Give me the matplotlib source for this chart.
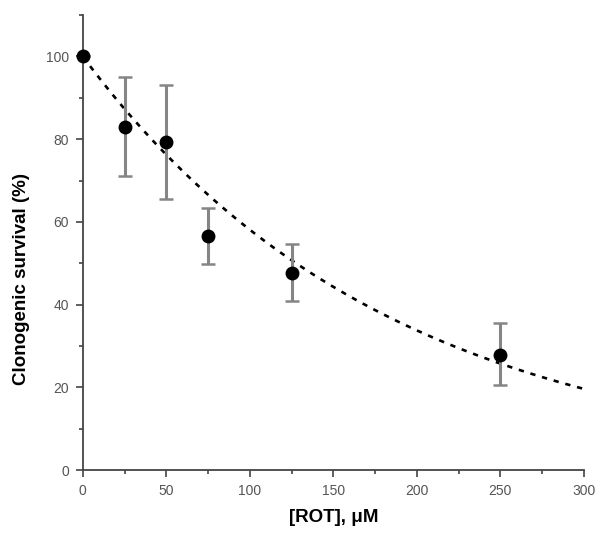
import numpy as np
import matplotlib
matplotlib.use("Agg")
import matplotlib.pyplot as plt
from matplotlib.ticker import MultipleLocator

plt.rcParams['font.family'] = ['Liberation Sans', 'DejaVu Sans']

# rotenone dose (uM) vs clonogenic survival (%)
dose = [0, 25, 50, 75, 125, 250]
survival = [100, 83.0, 79.3, 56.5, 47.7, 27.8]
err_low = [0, 12.0, 13.8, 6.7, 6.9, 7.3]
err_high = [0, 12.0, 13.7, 6.8, 6.9, 7.7]

x_ticks = [0, 50, 100, 150, 200, 250, 300]
y_ticks = [0, 20, 40, 60, 80, 100]

# single exponential decay through 100%, least squares on log scale
d = np.array(dose[1:], dtype=float)
s = np.array(survival[1:], dtype=float)
k = -np.sum(d * np.log(s / 100.0)) / np.sum(d ** 2)
xfit = np.linspace(0, 300, 300)
yfit = 100.0 * np.exp(-k * xfit)

fig = plt.figure(figsize=(6.0, 5.39), dpi=100)
ax = fig.add_axes([0.138, 0.128, 0.835, 0.844])

ax.plot(xfit, yfit, color='black', lw=1.9, linestyle=(0, (2.0, 2.6)), zorder=2)
ax.errorbar(dose, survival, yerr=[err_low, err_high], fmt='none',
            ecolor='#858585', elinewidth=2.2, capsize=5, capthick=1.8, zorder=3)
ax.plot(dose, survival, 'o', color='black', ms=9, zorder=4, clip_on=False)

ax.set_xlim(0, 300)
ax.set_ylim(0, 110)
ax.set_xticks(x_ticks)
ax.set_yticks(y_ticks)
ax.xaxis.set_minor_locator(MultipleLocator(25))
ax.yaxis.set_minor_locator(MultipleLocator(10))

for side in ['top', 'right']:
    ax.spines[side].set_visible(False)
for side in ['left', 'bottom']:
    ax.spines[side].set_color('#444444')
    ax.spines[side].set_linewidth(1.3)

ax.tick_params(which='major', direction='out', length=5, width=1.2,
               color='#444444', labelsize=10, labelcolor='#555555', pad=5)
ax.tick_params(which='minor', direction='out', length=3, width=1.2, color='#444444')

ax.set_xlabel('[ROT], \u03bcM', fontsize=13.5, fontweight='bold', labelpad=8)
ax.set_ylabel('Clonogenic survival (%)', fontsize=13.5, fontweight='bold')
ax.yaxis.set_label_coords(-0.105, 0.42)

fig.savefig('out.png', dpi=100)
